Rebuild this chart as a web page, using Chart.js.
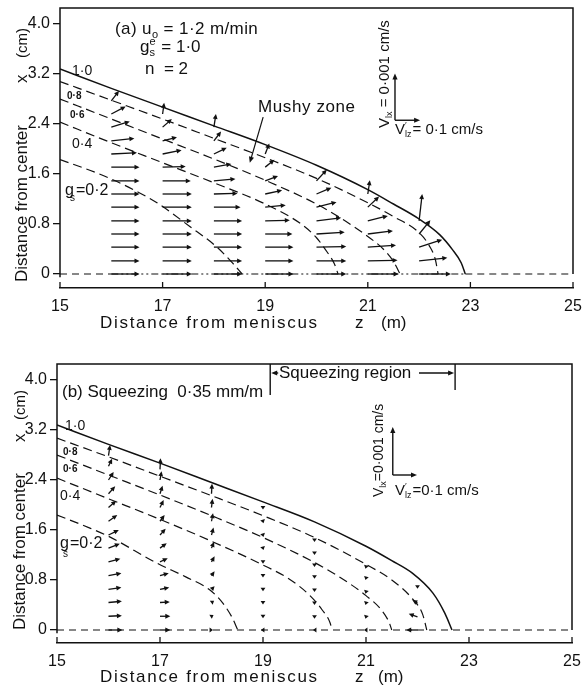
<!DOCTYPE html>
<html><head><meta charset="utf-8">
<script src="https://cdn.jsdelivr.net/npm/chart.js@4.4.1/dist/chart.umd.min.js"></script>
<style>
html,body{margin:0;padding:0;background:#fff;}
#wrap{position:relative;width:583px;height:686px;overflow:hidden;}
canvas{position:absolute;left:0;}
#ca{top:0;} #cb{top:340px;}
</style></head><body>
<div id="wrap"><canvas id="ca" width="583" height="340"></canvas><canvas id="cb" width="583" height="346"></canvas></div>
<script>
// ---------- tick values / labels ----------
const zTicks = [15, 17, 19, 21, 23, 25];
const zTickLabels = ['15', '17', '19', '21', '23', '25'];
const xTicks = [0, 0.8, 1.6, 2.4, 3.2, 4.0];
const xTickLabels = ['0', '0.8', '1.6', '2.4', '3.2', '4.0'];

// ---------- panel (a): solid-fraction contours [z (m), x (cm)] ----------
const aGs10 = [[15,3.28],[16,2.97],[17,2.67],[18,2.37],[19,2.07],[20,1.74],[21,1.35],[21.5,1.12],[22,0.88],[22.4,0.63],[22.65,0.39],[22.82,0.18],[22.9,0]];
const aGs08 = [[15,3.08],[16,2.78],[17,2.48],[18,2.17],[19,1.86],[20,1.53],[21,1.14],[21.5,0.92],[22,0.66],[22.2,0.45],[22.32,0.22],[22.37,0]];
const aGs06 = [[15,2.80],[16,2.48],[17,2.16],[18,1.84],[19,1.50],[20,1.12],[20.5,0.88],[21,0.6],[21.3,0.4],[21.5,0.2],[21.63,0]];
const aGs04 = [[15,2.43],[16,2.1],[17,1.78],[18,1.46],[19,1.12],[19.7,0.8],[20.0,0.58],[20.2,0.36],[20.35,0.16],[20.42,0]];
const aGs02 = [[15,1.83],[15.58,1.66],[16,1.52],[16.5,1.32],[16.89,1.14],[17.53,0.76],[18.06,0.43],[18.37,0.17],[18.55,0]];

// ---------- panel (b): solid-fraction contours ----------
const bGs10 = [[15,3.28],[16,2.97],[17,2.67],[18,2.36],[19,2.05],[20,1.73],[21,1.34],[21.5,1.11],[21.9,0.91],[22.3,0.59],[22.53,0.27],[22.67,0]];
const bGs08 = [[15,3.07],[16,2.77],[17,2.46],[18,2.15],[19,1.83],[20,1.48],[21,1.05],[21.5,0.8],[21.9,0.5],[22.1,0.25],[22.18,0]];
const bGs06 = [[15,2.80],[16,2.48],[17,2.16],[18,1.83],[19,1.48],[20,1.08],[20.5,0.84],[21,0.55],[21.3,0.32],[21.45,0.12],[21.5,0]];
const bGs04 = [[15,2.43],[16,2.1],[17,1.77],[18,1.42],[19,1.04],[19.5,0.82],[19.9,0.56],[20.15,0.32],[20.3,0.12],[20.34,0]];
const bGs02 = [[15,1.84],[15.64,1.63],[16,1.5],[16.94,1.07],[17.5,0.85],[17.97,0.64],[18.22,0.43],[18.4,0.2],[18.51,0]];

// centre line (x = 0): dashed outside the mushy zone, dash-dot inside it in (a)
const centerA_out1 = [[15,0],[16,0]];
const centerA_in = [[16,0],[22.9,0]];
const centerA_out2 = [[22.9,0],[25,0]];
const centerB = [[15,0],[25,0]];

// ---------- velocity vectors: columns (z) and per-column [x, dz, dx] ----------
const colsA = [16, 17, 18, 19, 20, 21, 22];
const vecA16 = [[0,0.55,0],[0.21,0.55,0],[0.43,0.55,0],[0.64,0.55,0],[0.85,0.55,0],[1.07,0.55,0],[1.28,0.55,0],[1.49,0.55,0],[1.71,0.55,0],[1.92,0.5,0.02],[2.13,0.45,0.04],[2.35,0.36,0.09],[2.56,0.28,0.12],[2.77,0.15,0.16]];
const vecA17 = [[0,0.57,0],[0.21,0.57,0],[0.43,0.57,0],[0.64,0.57,0],[0.85,0.57,0],[1.07,0.57,0],[1.28,0.57,0],[1.49,0.55,0],[1.71,0.45,0.01],[1.92,0.37,0.06],[2.13,0.28,0.06],[2.35,0.18,0.13],[2.56,0.03,0.18]];
const vecA18 = [[0,0.55,0],[0.21,0.55,0],[0.43,0.55,0],[0.64,0.55,0],[0.85,0.55,0],[1.07,0.52,0],[1.28,0.46,0.01],[1.49,0.42,0.03],[1.71,0.34,0.05],[1.92,0.25,0.1],[2.13,0.14,0.15],[2.35,0.04,0.21]];
const vecA19 = [[0,0.55,0],[0.21,0.55,0],[0.43,0.55,0],[0.64,0.53,0],[0.85,0.48,0.01],[1.07,0.4,0.03],[1.28,0.33,0.06],[1.49,0.25,0.08],[1.71,0.18,0.12],[1.92,0.08,0.17]];
const vecA20 = [[0,0.58,0],[0.21,0.58,0],[0.43,0.58,0.01],[0.64,0.55,0.03],[0.85,0.48,0.05],[1.07,0.39,0.08],[1.28,0.29,0.1],[1.49,0.2,0.18]];
const vecA21 = [[0,0.6,0],[0.21,0.58,0.01],[0.43,0.55,0.03],[0.64,0.49,0.05],[0.85,0.39,0.08],[1.07,0.22,0.17],[1.28,0.04,0.22]];
const vecA22 = [[0,0.62,0],[0.21,0.55,0.05],[0.43,0.45,0.12],[0.64,0.22,0.22],[0.85,0.06,0.43]];

const colsB = [16, 17, 18, 19, 20, 21, 22];
const vecB16 = [[0,0.27,0],[0.22,0.26,0.01],[0.44,0.26,0.02],[0.65,0.25,0.03],[0.87,0.25,0.04],[1.09,0.23,0.05],[1.31,0.22,0.07],[1.52,0.2,0.08],[1.74,0.17,0.1],[1.96,0.15,0.11],[2.18,0.13,0.12],[2.40,0.1,0.13],[2.62,0.07,0.12],[2.79,0.03,0.17]];
const vecB17 = [[0,0.2,0],[0.22,0.2,0],[0.44,0.19,0.01],[0.65,0.18,0.03],[0.87,0.17,0.04],[1.09,0.15,0.06],[1.31,0.13,0.08],[1.52,0.11,0.1],[1.74,0.09,0.1],[1.96,0.07,0.12],[2.18,0.05,0.13],[2.40,0.03,0.14],[2.57,0.01,0.18]];
const vecB18 = [[0,0.03,0],[0.22,0.04,0.02],[0.44,0.05,0.03],[0.65,0.06,0.05],[0.87,0.06,0.07],[1.09,0.06,0.09],[1.31,0.05,0.1],[1.52,0.04,0.12],[1.74,0.03,0.13],[1.96,0.02,0.14],[2.18,0.01,0.16]];
const vecB19 = [[0,-0.04,0],[0.22,0,-0.03],[0.44,0,-0.03],[0.65,0,-0.03],[0.87,0,-0.03],[1.09,0,-0.03],[1.31,0.01,-0.03],[1.52,0.01,-0.03],[1.74,0.01,-0.03],[1.96,0,-0.03]];
const vecB20 = [[0,-0.03,0],[0.21,0,-0.03],[0.43,0,-0.03],[0.64,0,-0.03],[0.85,0,-0.03],[1.04,0,-0.03],[1.23,0,-0.03],[1.44,0,-0.03]];
const vecB21 = [[0,-0.04,0],[0.21,-0.01,-0.03],[0.43,-0.01,-0.03],[0.61,-0.01,-0.03],[0.83,-0.01,-0.03],[1.01,-0.01,-0.03]];
const vecB22 = [[0,-0.22,0],[0.21,-0.17,0.05],[0.43,-0.1,0.05],[0.69,0,-0.03]];

// ---------- drawing helpers ----------
const INK = '#111';
const FONT = "'Liberation Sans', Arial, sans-serif";
function setFont(ctx, size, bold) { ctx.font = (bold ? 'bold ' : '') + size + 'px ' + FONT; }
function pts(arr) { return arr.map(p => ({x: p[0], y: p[1]})); }

function arrow(ctx, x0, y0, x1, y1, hl, hw) {
  hl = hl || 5; hw = hw || 2.4;
  const dx = x1 - x0, dy = y1 - y0, L = Math.hypot(dx, dy);
  if (L < 0.01) { ctx.beginPath(); ctx.arc(x0, y0, 1.5, 0, Math.PI * 2); ctx.fill(); return; }
  const ux = dx / L, uy = dy / L;
  if (L > hl) { ctx.beginPath(); ctx.moveTo(x0, y0); ctx.lineTo(x1 - ux * hl * 0.5, y1 - uy * hl * 0.5); ctx.stroke(); }
  const h = Math.max(Math.min(hl, L), 3.5);
  const bx = x1 - ux * h, by = y1 - uy * h;
  ctx.beginPath(); ctx.moveTo(x1, y1);
  ctx.lineTo(bx - uy * hw, by + ux * hw); ctx.lineTo(bx + uy * hw, by - ux * hw);
  ctx.closePath(); ctx.fill();
}

// parts: [text, kind] ; kind 'n' | 'sub' | 'sup' | 'stack' (text = [sup, sub])
function rich(ctx, x, y, parts, size, spacing) {
  ctx.letterSpacing = (spacing || 0) + 'px';
  const small = Math.round(size * 0.62);
  for (const [s, k] of parts) {
    if (k === 'stack') {
      setFont(ctx, small);
      ctx.fillText(s[0], x, y - size * 0.42);
      ctx.fillText(s[1], x, y + size * 0.22);
      x += Math.max(ctx.measureText(s[0]).width, ctx.measureText(s[1]).width) + 1;
      continue;
    }
    let fs = size, dy = 0;
    if (k === 'sub') { fs = small; dy = size * 0.22; }
    if (k === 'sup') { fs = small; dy = -size * 0.42; }
    setFont(ctx, fs);
    ctx.fillText(s, x, y + dy);
    x += ctx.measureText(s).width;
  }
  ctx.letterSpacing = '0px';
  return x;
}

function rotText(ctx, x, y, fn) {
  ctx.save(); ctx.translate(x, y); ctx.rotate(-Math.PI / 2); fn(); ctx.restore();
}

function panelPlugin(P) {
  return {
    id: 'panel' + P.id,
    afterDatasetsDraw(chart) {
      const ctx = chart.ctx, xs = chart.scales.x, ys = chart.scales.y, ca = chart.chartArea;
      const X = v => xs.getPixelForValue(v), Y = v => ys.getPixelForValue(v);
      ctx.save();
      ctx.strokeStyle = INK; ctx.fillStyle = INK; ctx.lineCap = 'butt';
      ctx.textAlign = 'left'; ctx.textBaseline = 'alphabetic';
      // frame: left, top, right
      ctx.lineWidth = 1.5;
      ctx.beginPath();
      ctx.moveTo(ca.left, Y(-0.05)); ctx.lineTo(ca.left, ca.top);
      ctx.lineTo(ca.right, ca.top); ctx.lineTo(ca.right, Y(0));
      ctx.stroke();
      // inward x ticks
      ctx.lineWidth = 1.3;
      xs.ticks.forEach(t => { const px = X(t.value); ctx.beginPath(); ctx.moveTo(px, ca.bottom); ctx.lineTo(px, ca.bottom - 6); ctx.stroke(); });
      // velocity vectors
      ctx.lineWidth = 1.3;
      P.cols.forEach((z, i) => P.vecs[i].forEach(([x, dz, dx]) => arrow(ctx, X(z), Y(x), X(z + dz), Y(x + dx))));
      P.draw(ctx, X, Y, ca);
      ctx.restore();
    }
  };
}

function makePanel(id, P) {
  const dsDefs = [
    {d: P.c10, dash: [], w: 1.5},
    {d: P.c08, dash: [9, 5], w: 1.2},
    {d: P.c06, dash: [9, 5], w: 1.2},
    {d: P.c04, dash: [9, 5], w: 1.2},
    {d: P.c02, dash: [9, 5], w: 1.2}
  ].concat(P.center);
  const datasets = dsDefs.map(o => ({
    data: pts(o.d), showLine: true, pointRadius: 0, borderColor: INK, borderWidth: o.w,
    borderDash: o.dash, fill: false, cubicInterpolationMode: 'monotone'
  }));
  return new Chart(document.getElementById(id), {
    type: 'scatter',
    data: {datasets},
    options: {
      responsive: false, animation: false, devicePixelRatio: 1,
      layout: {padding: {top: P.padTop, right: P.padRight, left: 0, bottom: 0}},
      plugins: {legend: {display: false}, tooltip: {enabled: false}},
      scales: {
        x: {
          type: 'linear', min: 15, max: 25,
          afterBuildTicks: s => { s.ticks = zTicks.map(v => ({value: v})); },
          afterFit: s => { s.height = P.xH; s.paddingLeft = 0; s.paddingRight = 0; },
          grid: {display: false},
          border: {display: true, color: INK, width: 1.5},
          ticks: {color: INK, font: {family: FONT, size: 16}, padding: 1, maxRotation: 0, autoSkip: false,
                  callback: v => zTickLabels[zTicks.indexOf(v)]}
        },
        y: {
          type: 'linear', min: P.yMin, max: P.yMax,
          afterBuildTicks: s => { s.ticks = xTicks.map(v => ({value: v})); },
          afterFit: s => { s.width = P.yW; s.paddingTop = 0; s.paddingBottom = 0; },
          grid: {display: true, drawOnChartArea: false, tickLength: 7, color: INK, lineWidth: 1.3},
          border: {display: false},
          ticks: {color: INK, font: {family: FONT, size: 16}, padding: 3, autoSkip: false,
                  callback: v => xTickLabels[xTicks.indexOf(v)]}
        }
      }
    },
    plugins: [panelPlugin(P)]
  });
}

// ---------- panel (a) ----------
makePanel('ca', {
  id: 'a', c10: aGs10, c08: aGs08, c06: aGs06, c04: aGs04, c02: aGs02,
  center: [
    {d: centerA_out1, dash: [7, 5], w: 1.1},
    {d: centerA_in, dash: [7, 3, 2, 3, 2, 3], w: 1.1},
    {d: centerA_out2, dash: [7, 5], w: 1.1}
  ],
  cols: colsA, vecs: [vecA16, vecA17, vecA18, vecA19, vecA20, vecA21, vecA22],
  padTop: 8, padRight: 10, yW: 60, xH: 52, yMin: -0.224, yMax: 4.256,
  draw(ctx, X, Y, ca) {
    rich(ctx, 115, 34, [['(a) u', 'n'], ['o', 'sub'], [' = 1·2 m/min', 'n']], 17, 0.4);
    rich(ctx, 140, 52, [['g', 'n'], [['e', 's'], 'stack'], [' = 1·0', 'n']], 17);
    rich(ctx, 145, 74, [['n  = 2', 'n']], 17);
    // contour labels
    setFont(ctx, 14); ctx.fillText('1·0', 72, 75);
    setFont(ctx, 10, true); ctx.fillText('0·8', 67, 99); ctx.fillText('0·6', 70, 118);
    setFont(ctx, 14); ctx.fillText('0·4', 72, 148);
    setFont(ctx, 16); ctx.fillText('g', 65, 195);
    setFont(ctx, 10); ctx.fillText('s', 70, 201);
    setFont(ctx, 16); ctx.fillText('=0·2', 76, 195);
    // mushy zone
    ctx.letterSpacing = '0.6px'; setFont(ctx, 17); ctx.fillText('Mushy zone', 258, 112); ctx.letterSpacing = '0px';
    ctx.lineWidth = 1.2;
    arrow(ctx, X(18.96), Y(2.51), X(18.70), Y(1.78), 6, 2.6);
    // velocity scale
    ctx.lineWidth = 1.4;
    arrow(ctx, X(21.53), Y(2.46), X(21.53), Y(3.21), 6, 2.6);
    arrow(ctx, X(21.53), Y(2.46), X(22.02), Y(2.46), 6, 2.6);
    rotText(ctx, 389, 128, () => rich(ctx, 0, 0, [['V', 'n'], ['lx', 'sub'], [' = 0·001 cm/s', 'n']], 15));
    rich(ctx, 395, 134, [['V', 'n'], [['′', 'lz'], 'stack'], ['= 0·1 cm/s', 'n']], 15);
    // axis titles
    rotText(ctx, 27, 282, () => {
      setFont(ctx, 17); ctx.fillText('Distance from center', 0, 0); ctx.fillText('x', 199, 0);
      setFont(ctx, 15); ctx.fillText('(cm)', 224, 0);
    });
    ctx.letterSpacing = '1.7px'; setFont(ctx, 17);
    ctx.fillText('Distance from meniscus', 100, 328);
    ctx.letterSpacing = '0px';
    ctx.fillText('z', 355, 328); ctx.fillText('(m)', 381, 328);
  }
});

// ---------- panel (b) ----------
makePanel('cb', {
  id: 'b', c10: bGs10, c08: bGs08, c06: bGs06, c04: bGs04, c02: bGs02,
  center: [{d: centerB, dash: [7, 5], w: 1.1}],
  cols: colsB, vecs: [vecB16, vecB17, vecB18, vecB19, vecB20, vecB21, vecB22],
  padTop: 24, padRight: 11, yW: 57, xH: 43, yMin: -0.208, yMax: 4.256,
  draw(ctx, X, Y, ca) {
    rich(ctx, 62, 57, [['(b) Squeezing  0·35 mm/m', 'n']], 17);
    // squeezing region markers
    ctx.lineWidth = 1.4;
    const zl = X(19.14), zr = X(22.73);
    ctx.beginPath(); ctx.moveTo(zl, ca.top); ctx.lineTo(zl, Y(3.76)); ctx.stroke();
    ctx.beginPath(); ctx.moveTo(zr, ca.top); ctx.lineTo(zr, Y(3.84)); ctx.stroke();
    arrow(ctx, zl + 8, 33, zl + 1, 33, 6, 2.6);
    arrow(ctx, 419, 33, zr - 1, 33, 6, 2.6);
    setFont(ctx, 17); ctx.fillText('Squeezing region', 279, 38);
    // contour labels
    setFont(ctx, 14); ctx.fillText('1·0', 65, 90);
    setFont(ctx, 10, true); ctx.fillText('0·8', 63, 115); ctx.fillText('0·6', 63, 132);
    setFont(ctx, 14); ctx.fillText('0·4', 60, 160);
    setFont(ctx, 16); ctx.fillText('g', 60, 208);
    setFont(ctx, 10); ctx.fillText('s', 63, 217);
    setFont(ctx, 16); ctx.fillText('=0·2', 70, 208);
    // velocity scale
    ctx.lineWidth = 1.4;
    arrow(ctx, X(21.52), Y(2.48), X(21.52), Y(3.25), 6, 2.6);
    arrow(ctx, X(21.52), Y(2.48), X(21.99), Y(2.48), 6, 2.6);
    rotText(ctx, 383, 157, () => rich(ctx, 0, 0, [['V', 'n'], ['lx', 'sub'], ['=0·001 cm/s', 'n']], 14));
    rich(ctx, 395, 155, [['V', 'n'], [['′', 'lz'], 'stack'], ['=0·1 cm/s', 'n']], 15);
    // axis titles
    rotText(ctx, 25, 290, () => {
      setFont(ctx, 17); ctx.fillText('Distance from center', 0, 0); ctx.fillText('x', 188, 0);
      setFont(ctx, 15); ctx.fillText('(cm)', 210, 0);
    });
    ctx.letterSpacing = '1.7px'; setFont(ctx, 17);
    ctx.fillText('Distance from meniscus', 100, 342);
    ctx.letterSpacing = '0px';
    ctx.fillText('z', 355, 342); ctx.fillText('(m)', 378, 342);
  }
});
</script>
</body></html>
